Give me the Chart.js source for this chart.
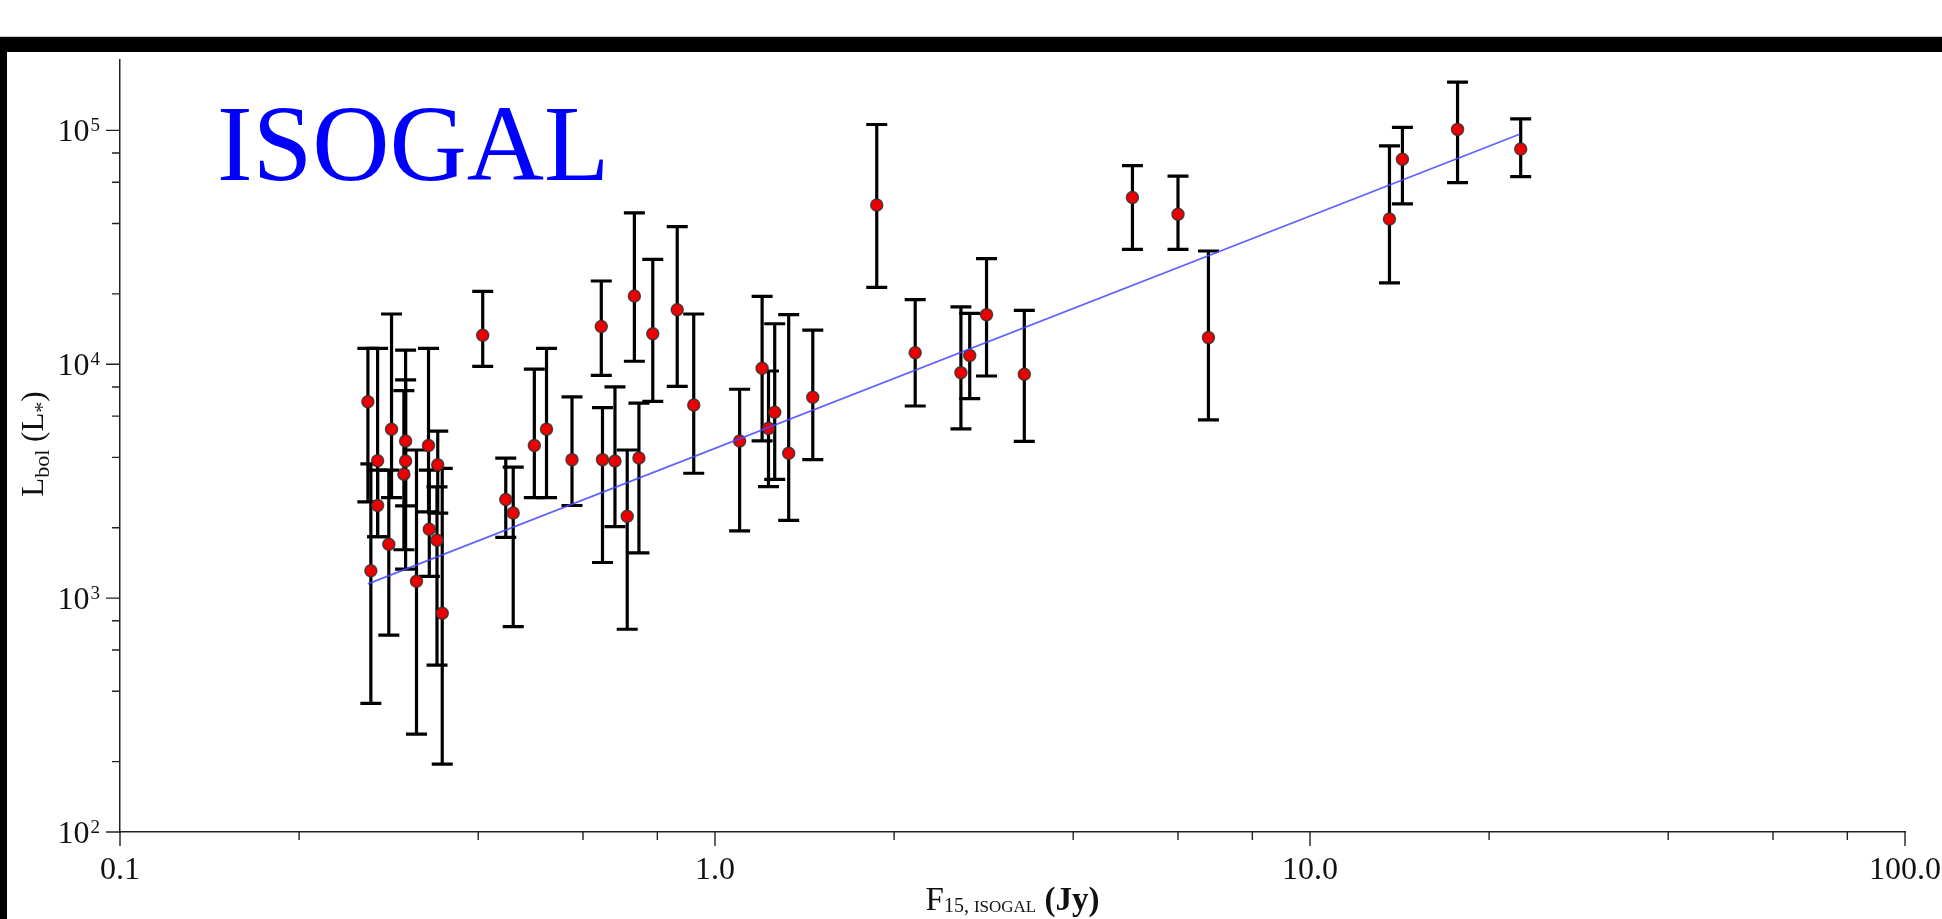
<!DOCTYPE html>
<html lang="es">
<head>
<meta charset="utf-8">
<title>ISOGAL</title>
<script src="https://cdn.jsdelivr.net/npm/chart.js@4.4.1/dist/chart.umd.min.js"></script>
<style>
  html, body { margin: 0; padding: 0; background: #fff; }
  body { width: 1942px; height: 919px; position: relative; overflow: hidden; }
  #marcoLinea { position: absolute; left: 0; top: 36px; width: 1942px; height: 1px; background: #c8c8c8; }
  #marcoArriba { position: absolute; left: 0; top: 37px; width: 1942px; height: 15px; background: #000; }
  #marcoIzq { position: absolute; left: 0; top: 37px; width: 7px; height: 882px; background: #000; }
  canvas { position: absolute; left: 0; top: 0; }
</style>
</head>
<body>
<div id="marcoLinea"></div>
<div id="marcoArriba"></div>
<div id="marcoIzq"></div>
<canvas id="grafico" width="1942" height="919"></canvas>
<script>
// 1. Datos: flujo a 15 micras (Jy) y luminosidad (L*)
const flujo = [0.261, 0.264, 0.271, 0.271, 0.283, 0.286, 0.300, 0.302, 0.302, 0.315,
    0.330, 0.331, 0.341, 0.342, 0.348, 0.407, 0.445, 0.458, 0.497, 0.521,
    0.575, 0.644, 0.647, 0.679, 0.712, 0.732, 0.745, 0.786, 0.864, 0.921,
    1.10, 1.20, 1.23, 1.26, 1.33, 1.46, 1.87, 2.17, 2.59, 2.68,
    2.86, 3.31, 5.03, 6.00, 6.75, 13.6, 14.3, 17.7, 22.6];
const lum = [6920, 1310, 3870, 2490, 1700, 5270, 3390, 4700, 3860, 1180,
    4490, 1970, 1770, 3720, 861, 13300, 2640, 2310, 4490, 5280,
    3910, 14500, 3910, 3860, 2240, 19600, 3970, 13500, 17100, 6700,
    4700, 9610, 5320, 6230, 4160, 7230, 48000, 11200, 9210, 10900,
    16300, 9060, 51700, 43800, 13000, 41800, 75300, 101000, 83300];
// extremos de las barras de error
const lumAlta = [11700, 3750, 11700, 3530, 3530, 16400, 7710, 8570, 11500, 4300,
    11700, 3530, 2990, 5180, 3590, 20500, 3970, 3630, 9530, 11700,
    7250, 22700, 6520, 8010, 4300, 44400, 6820, 28100, 38800, 16400,
    7820, 19500, 9360, 14900, 16300, 14000, 106000, 18900, 17600, 16500,
    28300, 17000, 70700, 63700, 30500, 85900, 103000, 161000, 112000];
const lumBaja = [2580, 355, 1830, 1830, 695, 2690, 1610, 2480, 1330, 262,
    2340, 1240, 517, 2310, 195, 9790, 1820, 756, 2690, 2690,
    2490, 8960, 1420, 2020, 736, 10300, 1560, 6940, 8040, 3420,
    1940, 4700, 3000, 3220, 2150, 3910, 21300, 6630, 5290, 7130,
    8910, 4680, 31000, 31000, 5780, 22300, 48500, 59800, 63500];

// 2. Recta de ajuste (solo los dos extremos)
const ajusteX = [0.261, 22.5];
const ajusteY = [1150, 96300];

// 3. Marcas de los ejes
const ticksX = [0.1, 1, 10, 100];
const etiquetasX = ['0.1', '1.0', '10.0', '100.0'];
const menoresX = [0.2, 0.4, 0.6, 0.8, 2, 4, 6, 8, 20, 40, 60, 80];
const ticksY = [100, 1000, 10000, 100000];
const exponentesY = ['2', '3', '4', '5'];
const menoresY = [200, 400, 600, 800, 2000, 4000, 6000, 8000, 20000, 40000, 60000, 80000];

const serif = '"Liberation Serif", "Times New Roman", serif';

// dibuja un texto hecho de trozos (para subindices) centrado en 0
function textoCompuesto(ctx, partes) {
    let total = 0;
    partes.forEach(p => {
        ctx.font = (p.negrita ? 'bold ' : '') + p.tam + 'px ' + serif;
        p.ancho = ctx.measureText(p.t).width;
        total += p.ancho;
    });
    let x = -total / 2;
    ctx.textAlign = 'left';
    ctx.textBaseline = 'alphabetic';
    partes.forEach(p => {
        ctx.font = (p.negrita ? 'bold ' : '') + p.tam + 'px ' + serif;
        ctx.fillText(p.t, x, p.dy || 0);
        x += p.ancho;
    });
}

const pluginExtras = {
    id: 'extras',
    beforeDatasetsDraw(chart) {
        // barras de error negras con remates
        const { ctx, scales: { x, y } } = chart;
        ctx.save();
        ctx.strokeStyle = '#000';
        ctx.lineWidth = 3.2;
        flujo.forEach((f, i) => {
            const px = x.getPixelForValue(f);
            const arriba = y.getPixelForValue(lumAlta[i]);
            const abajo = y.getPixelForValue(lumBaja[i]);
            ctx.beginPath();
            ctx.moveTo(px, arriba); ctx.lineTo(px, abajo);
            ctx.moveTo(px - 10.5, arriba); ctx.lineTo(px + 10.5, arriba);
            ctx.moveTo(px - 10.5, abajo); ctx.lineTo(px + 10.5, abajo);
            ctx.stroke();
        });
        ctx.restore();
    },
    afterDraw(chart) {
        const { ctx, chartArea, scales: { x, y } } = chart;
        ctx.save();
        ctx.strokeStyle = '#222';
        ctx.lineWidth = 1.4;
        ctx.fillStyle = '#111';

        // marcas del eje x (hacia abajo)
        ctx.beginPath();
        ticksX.forEach(v => {
            const px = x.getPixelForValue(v);
            ctx.moveTo(px, chartArea.bottom); ctx.lineTo(px, chartArea.bottom + 14);
        });
        menoresX.forEach(v => {
            const px = x.getPixelForValue(v);
            ctx.moveTo(px, chartArea.bottom); ctx.lineTo(px, chartArea.bottom + 8);
        });
        // marcas del eje y (hacia la izquierda)
        ticksY.forEach(v => {
            const py = y.getPixelForValue(v);
            ctx.moveTo(chartArea.left - 14, py); ctx.lineTo(chartArea.left, py);
        });
        menoresY.forEach(v => {
            const py = y.getPixelForValue(v);
            ctx.moveTo(chartArea.left - 8, py); ctx.lineTo(chartArea.left, py);
        });
        ctx.stroke();

        // etiquetas del eje x
        ctx.font = '32px ' + serif;
        ctx.textAlign = 'center';
        ctx.textBaseline = 'alphabetic';
        ticksX.forEach((v, i) => {
            ctx.fillText(etiquetasX[i], x.getPixelForValue(v), chartArea.bottom + 47);
        });

        // etiquetas del eje y: 10 con exponente
        ctx.textAlign = 'right';
        ticksY.forEach((v, i) => {
            const py = y.getPixelForValue(v);
            ctx.font = '19px ' + serif;
            const anchoExp = ctx.measureText(exponentesY[i]).width;
            ctx.fillText(exponentesY[i], 100, py + 0.5);
            ctx.font = '32px ' + serif;
            ctx.fillText('10', 100 - anchoExp - 1, py + 11);
        });

        // titulo del eje x
        ctx.save();
        ctx.translate((chartArea.left + chartArea.right) / 2, 910);
        textoCompuesto(ctx, [
            { t: 'F', tam: 33 },
            { t: '15, ', tam: 20, dy: 2 },
            { t: 'ISOGAL', tam: 17, dy: 2 },
            { t: ' (Jy)', tam: 33, negrita: true }
        ]);
        ctx.restore();

        // titulo del eje y (girado)
        ctx.save();
        ctx.translate(43, (chartArea.top + chartArea.bottom) / 2 - 2);
        ctx.rotate(-Math.PI / 2);
        textoCompuesto(ctx, [
            { t: 'L', tam: 31 },
            { t: 'bol', tam: 22, dy: 6 },
            { t: ' (L', tam: 31 },
            { t: '*', tam: 22, dy: 6 },
            { t: ')', tam: 31 }
        ]);
        ctx.restore();

        // rotulo grande azul
        ctx.fillStyle = '#0000ff';
        ctx.font = '107px ' + serif;
        ctx.textAlign = 'left';
        ctx.fillText('ISOGAL', 217, 180);
        ctx.restore();
    }
};

const ctxGrafico = document.getElementById('grafico').getContext('2d');
new Chart(ctxGrafico, {
    type: 'scatter',
    data: {
        datasets: [{
            label: 'Ajuste',
            data: ajusteX.map((v, i) => ({ x: v, y: ajusteY[i] })),
            showLine: true,
            borderColor: 'rgba(70, 70, 255, 0.85)',
            borderWidth: 1.8,
            pointRadius: 0,
            fill: false,
            order: 0
        }, {
            label: 'Fuentes',
            data: flujo.map((v, i) => ({ x: v, y: lum[i] })),
            backgroundColor: '#ee0000',
            borderColor: 'rgba(50, 50, 50, 0.85)',
            borderWidth: 1.5,
            pointRadius: 6,
            order: 1
        }]
    },
    options: {
        responsive: false,
        animation: false,
        devicePixelRatio: 1,
        layout: { padding: { top: 60, right: 37, bottom: 0, left: 0 } },
        plugins: {
            legend: { display: false },
            tooltip: { enabled: false }
        },
        scales: {
            x: {
                type: 'logarithmic',
                min: 0.1,
                max: 100,
                ticks: { display: false },
                grid: { display: false },
                border: { display: true, color: '#222', width: 1.5 },
                afterFit: s => { s.height = 87; }
            },
            y: {
                type: 'logarithmic',
                min: 100,
                max: 200000,
                ticks: { display: false },
                grid: { display: false },
                border: { display: true, color: '#222', width: 1.5 },
                afterFit: s => { s.width = 120; }
            }
        }
    },
    plugins: [pluginExtras]
});
</script>
</body>
</html>
